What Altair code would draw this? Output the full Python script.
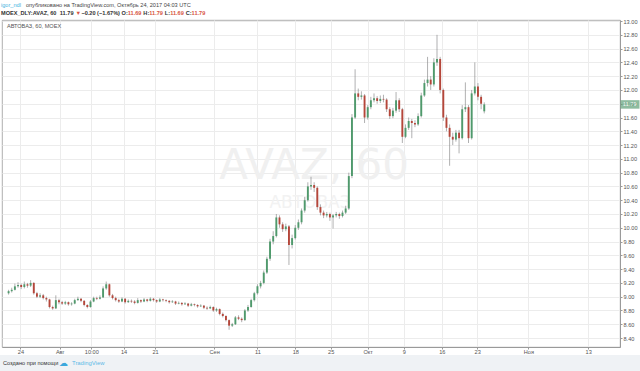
import altair as alt
import pandas as pd

# ---------------- data ----------------
# hourly bars, one candle kept for every 4th bar
bars = list(range(0, 608, 4))
opens = [
    9.05, 9.08, 9.10, 9.15, 9.17, 9.14, 9.18, 9.16, 9.20, 9.05,
    9.00, 9.02, 8.98, 8.96, 8.85, 8.83, 8.95, 8.92, 8.90, 8.92,
    8.89, 8.90, 8.95, 8.97, 8.94, 8.88, 8.85, 8.93, 8.98, 8.97,
    8.99, 9.12, 9.18, 9.02, 8.98, 8.95, 8.93, 8.97, 8.92, 8.94,
    8.93, 8.91, 8.95, 8.93, 8.96, 8.94, 8.97, 8.95, 8.93, 8.96,
    8.95, 8.94, 8.92, 8.93, 8.90, 8.91, 8.89, 8.90, 8.87, 8.89,
    8.88, 8.86, 8.87, 8.84, 8.83, 8.85, 8.80, 8.82, 8.75, 8.72,
    8.66, 8.58, 8.60, 8.70, 8.68, 8.66, 8.80, 8.85, 8.95, 9.05,
    9.15, 9.20, 9.35, 9.55, 9.80, 9.88, 10.15, 10.05, 9.98, 10.02,
    9.75, 9.85, 10.00, 10.08, 10.25, 10.40, 10.60, 10.62, 10.58, 10.30,
    10.22, 10.18, 10.20, 10.15, 10.18, 10.20, 10.17, 10.22, 10.28, 10.75,
    11.60, 11.95, 11.90, 11.92, 11.60, 11.75, 11.85, 11.88, 11.84, 11.87,
    11.86, 11.72, 11.62, 11.70, 11.85, 11.72, 11.32, 11.45, 11.55, 11.52,
    11.50, 11.62, 11.92, 12.10, 12.15, 12.08, 12.40, 12.45, 12.00, 11.60,
    11.45, 11.32, 11.28, 11.38, 11.30, 11.72, 11.75, 11.30, 11.95, 12.05,
    11.90, 11.69,
]
highs = [
    9.10, 9.13, 9.19, 9.21, 9.19, 9.22, 9.20, 9.24, 9.21, 9.07,
    9.05, 9.04, 9.00, 8.97, 8.87, 9.02, 8.97, 8.94, 8.94, 8.93,
    8.92, 8.97, 9.00, 8.98, 8.95, 8.89, 8.95, 9.00, 9.00, 9.02,
    9.15, 9.22, 9.19, 9.04, 9.00, 8.97, 8.99, 8.98, 8.96, 8.96,
    8.95, 8.98, 8.96, 8.98, 8.97, 8.99, 8.98, 8.96, 8.98, 8.97,
    8.96, 8.95, 8.95, 8.94, 8.93, 8.92, 8.92, 8.91, 8.91, 8.90,
    8.89, 8.89, 8.88, 8.86, 8.87, 8.86, 8.84, 8.83, 8.77, 8.73,
    8.67, 8.62, 8.72, 8.73, 8.70, 8.82, 8.88, 8.97, 9.07, 9.18,
    9.23, 9.38, 9.58, 9.84, 9.95, 10.20, 10.18, 10.08, 10.06, 10.04,
    9.90, 10.04, 10.12, 10.28, 10.45, 10.66, 10.74, 10.66, 10.60, 10.34,
    10.25, 10.23, 10.22, 10.20, 10.23, 10.22, 10.25, 10.32, 10.80, 11.65,
    12.30, 12.02, 11.98, 11.94, 11.78, 11.90, 11.95, 11.91, 11.92, 11.93,
    11.88, 11.75, 11.74, 11.97, 11.88, 11.74, 11.50, 11.60, 11.58, 11.56,
    11.66, 11.96, 12.15, 12.48, 12.20, 12.46, 12.80, 12.48, 12.02, 11.64,
    11.50, 11.38, 11.42, 11.42, 11.78, 12.11, 11.78, 12.00, 12.40, 12.10,
    11.93, 11.82,
]
lows = [
    9.03, 9.06, 9.09, 9.13, 9.11, 9.12, 9.13, 9.14, 9.03, 8.98,
    8.98, 8.96, 8.93, 8.83, 8.81, 8.82, 8.89, 8.88, 8.88, 8.87,
    8.87, 8.89, 8.94, 8.92, 8.86, 8.83, 8.84, 8.92, 8.95, 8.96,
    8.98, 9.10, 9.00, 8.96, 8.93, 8.91, 8.92, 8.90, 8.91, 8.91,
    8.89, 8.90, 8.91, 8.92, 8.92, 8.93, 8.93, 8.91, 8.92, 8.93,
    8.92, 8.90, 8.91, 8.88, 8.89, 8.87, 8.88, 8.85, 8.86, 8.86,
    8.84, 8.85, 8.82, 8.81, 8.82, 8.78, 8.78, 8.73, 8.70, 8.64,
    8.52, 8.56, 8.59, 8.66, 8.63, 8.65, 8.78, 8.84, 8.93, 9.03,
    9.12, 9.18, 9.33, 9.52, 9.76, 9.86, 10.00, 9.94, 9.95, 9.46,
    9.70, 9.83, 9.97, 10.05, 10.22, 10.38, 10.55, 10.52, 10.26, 10.18,
    10.14, 10.15, 10.10, 9.99, 10.15, 10.13, 10.15, 10.20, 10.26, 10.72,
    11.58, 11.85, 11.86, 11.52, 11.57, 11.72, 11.82, 11.80, 11.81, 11.82,
    11.68, 11.58, 11.59, 11.67, 11.68, 11.23, 11.30, 11.42, 11.30, 11.46,
    11.48, 11.60, 11.90, 12.05, 12.00, 12.05, 12.35, 11.95, 11.55, 11.40,
    10.90, 11.20, 11.25, 11.08, 11.28, 11.68, 11.23, 11.28, 11.92, 11.85,
    11.72, 11.66,
]
closes = [
    9.08, 9.10, 9.15, 9.17, 9.14, 9.18, 9.16, 9.20, 9.05, 9.00,
    9.02, 8.98, 8.96, 8.85, 8.83, 8.95, 8.92, 8.90, 8.92, 8.89,
    8.90, 8.95, 8.97, 8.94, 8.88, 8.85, 8.93, 8.98, 8.97, 8.99,
    9.12, 9.18, 9.02, 8.98, 8.95, 8.93, 8.97, 8.92, 8.94, 8.93,
    8.91, 8.95, 8.93, 8.96, 8.94, 8.97, 8.95, 8.93, 8.96, 8.95,
    8.94, 8.92, 8.93, 8.90, 8.91, 8.89, 8.90, 8.87, 8.89, 8.88,
    8.86, 8.87, 8.84, 8.83, 8.85, 8.80, 8.82, 8.75, 8.72, 8.66,
    8.58, 8.60, 8.70, 8.68, 8.66, 8.80, 8.85, 8.95, 9.05, 9.15,
    9.20, 9.35, 9.55, 9.80, 9.88, 10.15, 10.05, 9.98, 10.02, 9.75,
    9.85, 10.00, 10.08, 10.25, 10.40, 10.60, 10.62, 10.58, 10.30, 10.22,
    10.18, 10.20, 10.15, 10.18, 10.20, 10.17, 10.22, 10.28, 10.75, 11.60,
    11.95, 11.90, 11.92, 11.60, 11.75, 11.85, 11.88, 11.84, 11.87, 11.86,
    11.72, 11.62, 11.70, 11.85, 11.72, 11.32, 11.45, 11.55, 11.52, 11.50,
    11.62, 11.92, 12.10, 12.15, 12.08, 12.40, 12.45, 12.00, 11.60, 11.45,
    11.32, 11.28, 11.38, 11.30, 11.72, 11.75, 11.30, 11.95, 12.05, 11.90,
    11.80, 11.79,
]

price_ticks = [8.40, 8.60, 8.80, 9.00, 9.20, 9.40, 9.60, 9.80, 10.00, 10.20,
               10.40, 10.60, 10.80, 11.00, 11.20, 11.40, 11.60, 11.80, 12.00,
               12.20, 12.40, 12.60, 12.80, 13.00]
time_tick_bars = [15, 65, 105, 146, 186, 261, 316, 364, 409, 456, 502, 550, 595, 660, 736]
time_tick_labels = ["24", "Авг", "10:00", "14", "21", "Сен", "11", "18", "25",
                    "Окт", "9", "16", "23", "Ноя", "13"]
last_price = [11.79]

symbol_line = "АВТОВАЗ, 60, MOEX"
watermark_big = "AVAZ, 60"
watermark_small = "АВТОВАЗ"
header_user = "igor_ndl"
header_rest = " опубликовано на TradingView.com, Октябрь 24, 2017 04:03 UTC"
header2 = [("MOEX_DLY:AVAZ, 60 ", "#333333"), ("11.79 ", "#333333"), ("▼ ", "#d75442"),
           ("−0.20 (−1.67%) ", "#333333"), ("O:", "#333333"), ("11.69 ", "#d75442"),
           ("H:", "#333333"), ("11.79 ", "#d75442"), ("L:", "#333333"), ("11.69 ", "#d75442"),
           ("C:", "#333333"), ("11.79", "#d75442")]
footer_text = "Создано при помощи"
footer_brand = "TradingView"

# ---------------- styling ----------------
UP = "#4f9a6c"
DOWN = "#b5463a"
WICK = "#7a7a7c"
GRID = "#ececec"
AXIS = "#9a9a9a"
LABEL = "#555555"
FONT = "Liberation Sans"
FS = 5.6

df = pd.DataFrame({"bar": bars, "open": opens, "high": highs, "low": lows, "close": closes})

xscale = alt.Scale(domain=[-2, 770], nice=False, zero=False)
yscale = alt.Scale(domain=[8.27, 13.015], nice=False, zero=False)

label_expr = " : ".join(f"datum.value == {b} ? '{l}'" for b, l in zip(time_tick_bars, time_tick_labels)) + " : ''"

x_axis = alt.Axis(values=time_tick_bars, labelExpr=label_expr, grid=True, gridColor=GRID,
                  domainColor=AXIS, tickColor=AXIS, tickSize=2, labelFontSize=FS,
                  labelColor=LABEL, labelPadding=0.5, title=None, labelFont=FONT,
                  labelOverlap=False, labelFlush=False)
y_axis = alt.Axis(orient="right", values=price_ticks, format=".2f", grid=True, gridColor=GRID,
                  domainColor=AXIS, tickColor=AXIS, tickSize=2, labelFontSize=FS,
                  labelColor=LABEL, labelPadding=1, title=None, labelFont=FONT,
                  labelOverlap=False, labelFlush=False)

X = lambda f: alt.X(f, scale=xscale, axis=x_axis)
Y = lambda f: alt.Y(f, scale=yscale, axis=y_axis)

wicks = alt.Chart(df).mark_rule(color=WICK, strokeWidth=0.6).encode(
    x=X("bar:Q"), y=Y("low:Q"), y2="high:Q",
)
bodies = alt.Chart(df).mark_bar(width=1.9).encode(
    x=X("bar:Q"), y=Y("open:Q"), y2="close:Q",
    color=alt.condition("datum.close >= datum.open", alt.value(UP), alt.value(DOWN)),
)

def txt(s, x, y, size=FS, color=LABEL, bold=False, align="left", font=FONT):
    return alt.Chart(pd.DataFrame({"t": [s]})).mark_text(
        align=align, baseline="middle", fontSize=size, color=color, font=font,
        fontWeight="bold" if bold else "normal",
    ).encode(text="t:N", x=alt.value(x), y=alt.value(y))

CW = {" ": .278, ".": .278, ",": .278, ":": .333, "(": .333, ")": .333, "%": .889,
      "−": .584, "-": .333, "_": .556, "M": .833, "O": .778, "H": .722, "L": .611,
      "C": .722, "D": .722, "E": .667, "X": .667, "Y": .667, "A": .722, "V": .667,
      "Z": .611, "▼": .8}

def width(s, size):
    return sum(CW.get(ch, .556) for ch in s) * size

layers = []
# watermark (behind candles)
layers.append(txt(watermark_big, 312, 146, size=42, color="#f0f0f0", align="center", font="DejaVu Sans"))
layers.append(txt(watermark_small, 308, 183, size=17, color="#f2f2f2", align="center", font="DejaVu Sans"))
layers += [wicks, bodies]

# symbol line inside the pane
layers.append(txt(symbol_line, 5, 5.5, color="#555555"))

# header lines
layers.append(txt(header_user, -1, -15, color="#45b2e0"))
layers.append(txt(header_rest, -1 + width(header_user, FS), -15, color="#444444"))
x0 = -1
for seg, col in header2:
    layers.append(txt(seg, x0, -7, color=col, bold=True))
    x0 += width(seg, FS)

# last price marker
lp = pd.DataFrame({"p": last_price})
layers.append(alt.Chart(lp).mark_tick(orient="horizontal", size=19, thickness=8.5, color="#5e9f78").encode(
    x=alt.value(628), y=Y("p:Q")))
layers.append(alt.Chart(lp).mark_text(align="left", baseline="middle", fontSize=FS, color="white", font=FONT).encode(
    x=alt.value(621), y=Y("p:Q"), text=alt.Text("p:Q", format=".2f")))

# footer band
layers.append(alt.Chart(pd.DataFrame({"a": [0]})).mark_rect(color="#eff2f5").encode(
    x=alt.value(-2), x2=alt.value(638), y=alt.value(335), y2=alt.value(351)))
layers.append(txt(footer_text, 1, 343, color="#333333"))
layers.append(txt("☁", 57, 343, size=9, color="#3ba7dc", font="DejaVu Sans"))
layers.append(txt(footer_brand, 70, 343, size=FS + 0.3, color="#5cb8e6"))

chart = alt.layer(*layers).properties(
    width=618, height=327,
    autosize=alt.AutoSizeParams(type="none"),
    padding={"left": 2, "top": 20, "right": 20, "bottom": 24},
    background="white",
).configure_view(stroke=AXIS, strokeWidth=0.8)

chart.save("out.html", embed_options={"renderer": "svg", "actions": False})
